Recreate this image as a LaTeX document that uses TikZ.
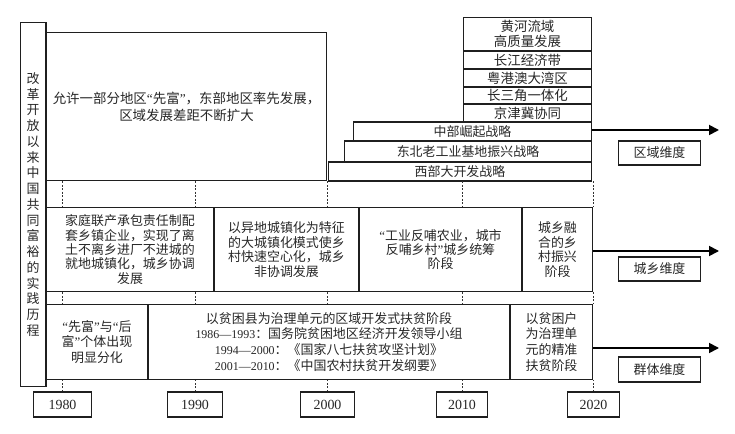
\documentclass[tikz,border=0pt]{standalone}
\usepackage{fontspec}
\setmainfont{Liberation Serif}
\newfontfamily\cjk{Noto Sans CJK SC}
\newfontfamily\latn{Liberation Serif}
\usetikzlibrary{arrows.meta,calc}
\newcommand\myoq{{\latn “}}
\newcommand\mycq{{\latn ”}}
\newcommand\dg[1]{{\latn\fontsize{12}{16}\selectfont #1}}
\begin{document}
\begin{tikzpicture}[x=1bp,y=-1bp,
  bx/.style={draw=black!88, line width=1.1pt, inner sep=0pt, align=center,
    font=\cjk\fontsize{13}{14.5}\selectfont, text=black!85},
  dsh/.style={draw=black!80, dash pattern=on 2pt off 1.5pt, line width=0.8pt},
  arr/.style={draw=black, line width=1.8pt, -{Triangle[length=10bp,width=10bp]}},
  yr/.style={bx, font=\latn\fontsize{14}{14}\selectfont},
]
\useasboundingbox (0,0) rectangle (735,434);
% left vertical title
\node[bx, minimum width=26, minimum height=365, font=\cjk\fontsize{13}{15.8}\selectfont] (title) at (33,204.5)
  {改\\革\\开\\放\\以\\来\\中\\国\\共\\同\\富\\裕\\的\\实\\践\\历\\程};
% region dimension
\node[bx, minimum width=281, minimum height=149, font=\cjk\fontsize{13.5}{17}\selectfont] (top) at (186.5,106.5)
  {允许一部分地区\myoq 先富\mycq ，东部地区率先发展，\\区域发展差距不断扩大};
\node[bx, minimum width=129, minimum height=34, font=\cjk\fontsize{13.5}{15}\selectfont] (hh) at (527.5,34) {黄河流域\\高质量发展};
\node[bx, minimum width=129, minimum height=18, font=\cjk\fontsize{13.5}{15}\selectfont] (cj) at (527.5,60) {长江经济带};
\node[bx, minimum width=129, minimum height=18, font=\cjk\fontsize{13.5}{15}\selectfont] (ygA) at (527.5,78) {粤港澳大湾区};
\node[bx, minimum width=129, minimum height=17, font=\cjk\fontsize{13.5}{15}\selectfont] (csj) at (527.5,95.5) {长三角一体化};
\node[bx, minimum width=129, minimum height=18, font=\cjk\fontsize{13.5}{15}\selectfont] (jjj) at (527.5,113) {京津冀协同};
\node[bx, minimum width=239, minimum height=19] (zb) at (472.5,131.5) {中部崛起战略};
\node[bx, minimum width=248, minimum height=21] (db) at (468,151.5) {东北老工业基地振兴战略};
\node[bx, minimum width=264, minimum height=19] (xb) at (460,171.5) {西部大开发战略};
\node[bx, minimum width=83, minimum height=24] (qy) at (659.5,153) {区域维度};
% urban-rural dimension
\node[bx, minimum width=168, minimum height=85] (u1) at (130,249.5)
  {家庭联产承包责任制配\\套乡镇企业，实现了离\\土不离乡进厂不进城的\\就地城镇化，城乡协调\\发展};
\node[bx, minimum width=145, minimum height=85] (u2) at (286.5,249.5)
  {以异地城镇化为特征\\的大城镇化模式使乡\\村快速空心化，城乡\\非协调发展};
\node[bx, minimum width=163, minimum height=85] (u3) at (440.5,249.5)
  {\myoq 工业反哺农业，城市\\反哺乡村\mycq 城乡统筹\\阶段};
\node[bx, minimum width=71, minimum height=85] (u4) at (557.5,249.5)
  {城乡融\\合的乡\\村振兴\\阶段};
\node[bx, minimum width=83, minimum height=24] (cx) at (659.5,269) {城乡维度};
% group dimension
\node[bx, minimum width=102, minimum height=76, font=\cjk\fontsize{13}{16}\selectfont] (b1) at (97,342)
  {\myoq 先富\mycq 与\myoq 后\\富\mycq 个体出现\\明显分化};
\node[bx, minimum width=362, minimum height=76, font=\cjk\fontsize{13}{16}\selectfont] (b2) at (329,342)
  {以贫困县为治理单元的区域开发式扶贫阶段\\
   \dg{1986—1993}：国务院贫困地区经济开发领导小组\\
   \dg{1994—2000}：《国家八七扶贫攻坚计划》\\
   \dg{2001—2010}：《中国农村扶贫开发纲要》};
\node[bx, minimum width=83, minimum height=76, font=\cjk\fontsize{13}{16}\selectfont] (b3) at (551.5,342)
  {以贫困户\\为治理单\\元的精准\\扶贫阶段};
\node[bx, minimum width=83, minimum height=25] (qt) at (659.5,369.5) {群体维度};
% years
\node[yr, minimum width=59, minimum height=25] (y1980) at (62.5,404.5) {1980};
\node[yr, minimum width=56, minimum height=25] (y1990) at (195,404.5) {1990};
\node[yr, minimum width=55, minimum height=25] (y2000) at (327.5,404.5) {2000};
\node[yr, minimum width=52, minimum height=25] (y2010) at (462,404.5) {2010};
\node[yr, minimum width=53, minimum height=25] (y2020) at (593.5,404.5) {2020};
% dashed year guides
\foreach \y in {y1980,y1990,y2000,y2010,y2020}{
  \draw[dsh] (\y.north) -- (\y.north |- b1.south);
  \draw[dsh] (\y.north |- u1.south) -- (\y.north |- b1.north);
  \draw[dsh] (\y.north |- top.south) -- (\y.north |- u1.north);
}
% arrows
\coordinate (qyE) at (719,130);
\coordinate (qyS) at (592,130);
\coordinate (cxE) at (719,251);
\coordinate (cxS) at (593,251);
\coordinate (qtS) at (593,348);
\coordinate (qtE) at (719,348);
\draw[arr] (qyS) -- (qyE);
\draw[arr] (cxS) -- (cxE);
\draw[arr] (qtS) -- (qtE);
\end{tikzpicture}
\end{document}
